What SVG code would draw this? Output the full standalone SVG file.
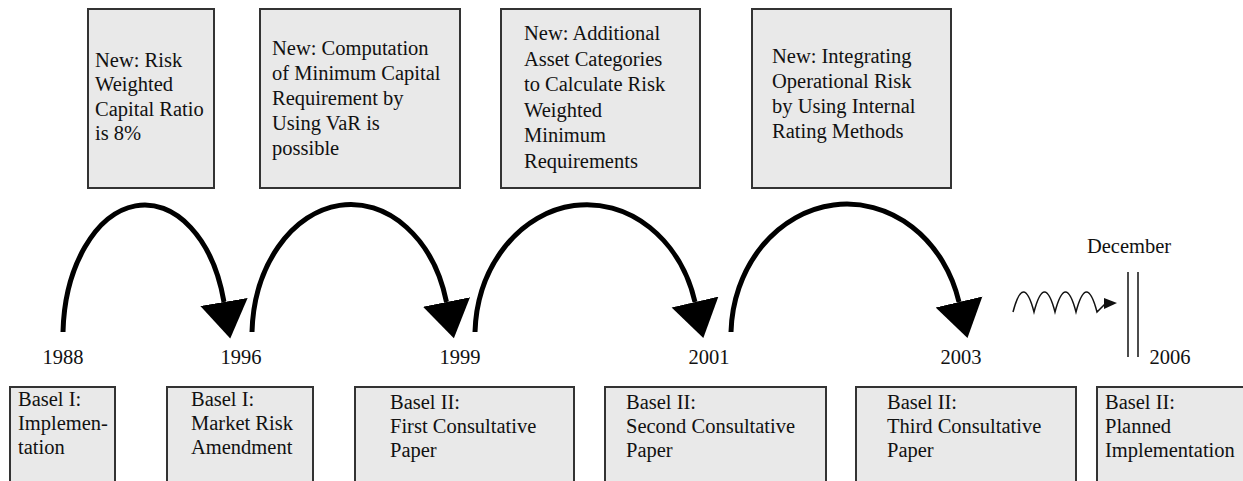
<svg xmlns="http://www.w3.org/2000/svg" width="1243" height="481" viewBox="0 0 1243 481">
<style>
.box{fill:#e9e9e9;stroke:#333;stroke-width:2}
.t{font-family:'Liberation Serif','DejaVu Serif',serif;font-size:20.5px;fill:#111}
.y{text-anchor:middle}
.arc{fill:none;stroke:#000;stroke-width:5}
.thin{fill:none;stroke:#111;stroke-width:1.5}
</style>
<defs>
<marker id="bigArrow" markerUnits="userSpaceOnUse" markerWidth="40" markerHeight="50" refX="0" refY="24" orient="auto" viewBox="0 0 40 48">
<path d="M0,0 L37,24 L0,48 Z" fill="#000"/>
</marker>
</defs>
<rect width="1243" height="481" fill="#fff"/>

<g id="top1"><rect class="box" x="88" y="9" width="126" height="179"/>
<text class="t"><tspan x="95" y="67">New: Risk</tspan><tspan x="95" y="91">Weighted</tspan><tspan x="95" y="116">Capital Ratio</tspan><tspan x="95" y="140">is 8%</tspan></text></g>

<g id="top2"><rect class="box" x="260" y="9" width="200" height="179"/>
<text class="t"><tspan x="272" y="55">New: Computation</tspan><tspan x="272" y="80">of Minimum Capital</tspan><tspan x="272" y="105">Requirement by</tspan><tspan x="272" y="130">Using VaR is</tspan><tspan x="272" y="155">possible</tspan></text></g>

<g id="top3"><rect class="box" x="501" y="9" width="199" height="179"/>
<text class="t"><tspan x="524" y="40">New: Additional</tspan><tspan x="524" y="65.5">Asset Categories</tspan><tspan x="524" y="91">to Calculate Risk</tspan><tspan x="524" y="116.5">Weighted</tspan><tspan x="524" y="142">Minimum</tspan><tspan x="524" y="167.5">Requirements</tspan></text></g>

<g id="top4"><rect class="box" x="752" y="9" width="199" height="179"/>
<text class="t"><tspan x="772" y="63">New: Integrating</tspan><tspan x="772" y="88">Operational Risk</tspan><tspan x="772" y="113">by Using Internal</tspan><tspan x="772" y="138">Rating Methods</tspan></text></g>

<g id="connectors">
<path class="arc" d="M63,332 A82,132 0 0 1 224,302" marker-end="url(#bigArrow)"/>
<path class="arc" d="M252,332 A99,132 0 0 1 446.5,302" marker-end="url(#bigArrow)"/>
<path class="arc" d="M475,332 A112,132 0 0 1 695,302" marker-end="url(#bigArrow)"/>
<path class="arc" d="M731,332 A116,132 0 0 1 959,302" marker-end="url(#bigArrow)"/>
<path class="thin" d="M1013,312 Q1023.5,272 1034,312 Q1044.5,272 1055,312 Q1065.5,272 1076,312 Q1086.5,272 1097,312 L1106,303"/>
<polygon points="1104,298 1117,303 1104,309" fill="#111"/>
<line class="thin" x1="1128" y1="272" x2="1128" y2="357"/>
<line class="thin" x1="1138" y1="272" x2="1138" y2="357"/>
</g>

<g id="years">
<text class="t y" x="63" y="364">1988</text>
<text class="t y" x="241" y="364">1996</text>
<text class="t y" x="460" y="364">1999</text>
<text class="t y" x="709" y="364">2001</text>
<text class="t y" x="961" y="364">2003</text>
<text class="t y" x="1170" y="364">2006</text>
<text class="t y" x="1129" y="253">December</text>
</g>

<g id="bottom1"><rect class="box" x="10" y="387" width="105" height="110"/>
<text class="t"><tspan x="18" y="406">Basel I:</tspan><tspan x="18" y="430">Implemen-</tspan><tspan x="18" y="454">tation</tspan></text></g>
<g id="bottom2"><rect class="box" x="167" y="387" width="146" height="110"/>
<text class="t"><tspan x="191" y="406">Basel I:</tspan><tspan x="191" y="430">Market Risk</tspan><tspan x="191" y="454">Amendment</tspan></text></g>
<g id="bottom3"><rect class="box" x="355" y="387" width="219" height="110"/>
<text class="t"><tspan x="390" y="409">Basel II:</tspan><tspan x="390" y="433">First Consultative</tspan><tspan x="390" y="457">Paper</tspan></text></g>
<g id="bottom4"><rect class="box" x="605" y="387" width="221" height="110"/>
<text class="t"><tspan x="626" y="409">Basel II:</tspan><tspan x="626" y="433">Second Consultative</tspan><tspan x="626" y="457">Paper</tspan></text></g>
<g id="bottom5"><rect class="box" x="856" y="387" width="220" height="110"/>
<text class="t"><tspan x="887" y="409">Basel II:</tspan><tspan x="887" y="433">Third Consultative</tspan><tspan x="887" y="457">Paper</tspan></text></g>
<g id="bottom6"><rect class="box" x="1097" y="387" width="160" height="110"/>
<text class="t"><tspan x="1105" y="409">Basel II:</tspan><tspan x="1105" y="433">Planned</tspan><tspan x="1105" y="457">Implementation</tspan></text></g>
</svg>
